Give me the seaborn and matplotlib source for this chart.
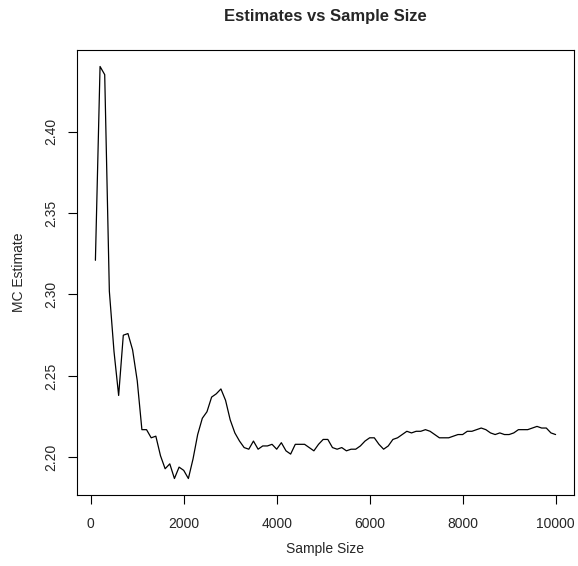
import numpy as np
import pandas as pd
import matplotlib
matplotlib.use("Agg")
import matplotlib.pyplot as plt
import seaborn as sns

# Monte Carlo estimate at each sample size
sample_sizes = list(range(100, 10001, 100))
estimates = [
    2.321, 2.440, 2.435, 2.302, 2.265, 2.238, 2.275, 2.276, 2.266, 2.247,
    2.217, 2.217, 2.212, 2.213, 2.201, 2.193, 2.196, 2.187, 2.194, 2.192,
    2.187, 2.199, 2.214, 2.224, 2.228, 2.237, 2.239, 2.242, 2.235, 2.223,
    2.215, 2.210, 2.206, 2.205, 2.210, 2.205, 2.207, 2.207, 2.208, 2.205,
    2.209, 2.204, 2.202, 2.208, 2.208, 2.208, 2.206, 2.204, 2.208, 2.211,
    2.211, 2.206, 2.205, 2.206, 2.204, 2.205, 2.205, 2.207, 2.210, 2.212,
    2.212, 2.208, 2.205, 2.207, 2.211, 2.212, 2.214, 2.216, 2.215, 2.216,
    2.216, 2.217, 2.216, 2.214, 2.212, 2.212, 2.212, 2.213, 2.214, 2.214,
    2.216, 2.216, 2.217, 2.218, 2.217, 2.215, 2.214, 2.215, 2.214, 2.214,
    2.215, 2.217, 2.217, 2.217, 2.218, 2.219, 2.218, 2.218, 2.215, 2.214,
]
x_ticks = [0, 2000, 4000, 6000, 8000, 10000]
y_ticks = [2.20, 2.25, 2.30, 2.35, 2.40]

df = pd.DataFrame({"n": sample_sizes, "est": estimates})

sns.set_style("white")
plt.rcParams["font.family"] = ["Liberation Sans", "DejaVu Sans"]

fig = plt.figure(figsize=(5.78, 5.66), dpi=100)
ax = fig.add_axes([77 / 578, 1 - 495 / 566, (574 - 77) / 578, (495 - 50) / 566])

sns.lineplot(data=df, x="n", y="est", ax=ax, color="black", linewidth=0.9)

# R-style 4% padding on both axes
xr = df["n"].max() - df["n"].min()
yr = df["est"].max() - df["est"].min()
ax.set_xlim(df["n"].min() - 0.04 * xr, df["n"].max() + 0.04 * xr)
ax.set_ylim(df["est"].min() - 0.04 * yr, df["est"].max() + 0.04 * yr)

ax.set_xticks(x_ticks)
ax.set_xticklabels([str(t) for t in x_ticks])
ax.set_yticks(y_ticks)
ax.set_yticklabels([f"{t:.2f}" for t in y_ticks], rotation=90, va="center")
ax.tick_params(axis="both", direction="out", length=6.5, width=0.8, color="black",
               labelsize=10, bottom=True, left=True)
ax.tick_params(axis="x", pad=9)
ax.tick_params(axis="y", pad=7)

for s in ax.spines.values():
    s.set_visible(True)
    s.set_color("black")
    s.set_linewidth(0.8)

ax.set_xlabel("Sample Size", fontsize=10, labelpad=8)
ax.set_ylabel("MC Estimate", fontsize=10, labelpad=13)
ax.set_title("Estimates vs Sample Size", fontsize=12, fontweight="bold", pad=21)

fig.savefig("out.png", dpi=100)
